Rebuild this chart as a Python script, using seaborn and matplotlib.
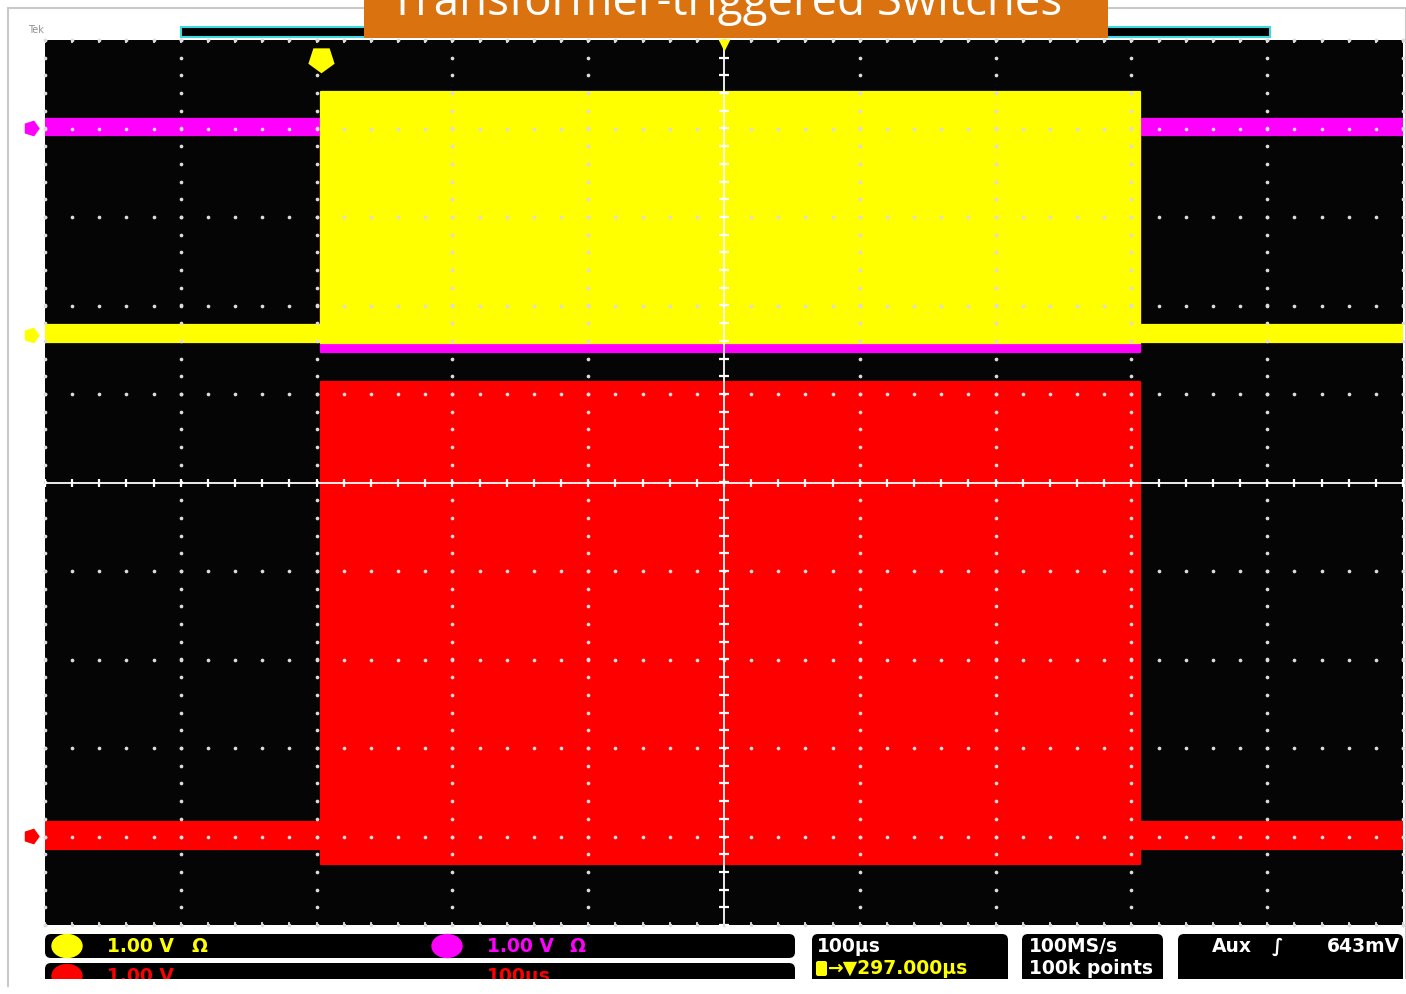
import numpy as np
import pandas as pd
import matplotlib
matplotlib.use("Agg")
import matplotlib.pyplot as plt
import seaborn as sns
from matplotlib.patches import Rectangle, FancyBboxPatch, Ellipse

# ---- acquisition data: 100 µs/div horizontal, 1 V/div vertical ----------
time_us = [0, 203, 806, 1000]          # segment boundaries: idle, burst, idle
ch1_upper = [1.78, 4.41, 1.78]         # yellow trace envelope (div)
ch1_lower = [1.59, 1.58, 1.59]
ch2_upper = [4.11, 1.58, 4.11]         # magenta trace envelope (div)
ch2_lower = [3.93, 1.47, 3.93]
ch3_upper = [-3.84, 1.13, -3.84]       # red trace envelope (div)
ch3_lower = [-4.14, -4.31, -4.14]

channel_names = ["CH1", "CH2", "CH3"]
channel_colors = ["#ffff00", "#ff00ff", "#ff0000"]
channel_ground = [1.67, 4.01, -3.99]   # ground-reference marker levels (div)
trigger_time_us = 203

title = "Transformer-triggered Switches"
ch_scale_labels = ["1.00 V", "1.00 V", "1.00 V"]
math_scale_label = "100µs"
timebase_label = "100µs"
trigger_pos_label = "297.000µs"
sample_rate_label = "100MS/s"
record_label = "100k points"
trigger_source_label = "Aux"
trigger_level_label = "643mV"

# ---- long-form table of trace envelopes ----------------------------------
rows = []
for name, up, lo in zip(channel_names, [ch1_upper, ch2_upper, ch3_upper],
                        [ch1_lower, ch2_lower, ch3_lower]):
    for edge, vals in (("upper", up), ("lower", lo)):
        for t, v in zip(time_us, vals + [vals[-1]]):
            rows.append({"channel": name, "edge": edge, "time": t, "value": v})
traces = pd.DataFrame(rows)

sns.set_theme(style="white")
plt.rcParams["font.family"] = ["DejaVu Sans"]

W, H = 1406, 994
fig = plt.figure(figsize=(W / 100, H / 100), dpi=100, facecolor="white")

# pixel-space overlay for the frame, header and status bar
deco = fig.add_axes([0, 0, 1, 1], zorder=0)
deco.set_xlim(0, W)
deco.set_ylim(H, 0)
deco.axis("off")

# screen area
px_l, px_r, px_t, px_b = 45, 1403, 40, 925
ax = fig.add_axes([px_l / W, 1 - px_b / H, (px_r - px_l) / W, (px_b - px_t) / H], zorder=2)
ax.set_facecolor("#050505")
ax.set_xlim(0, 1000)
ax.set_ylim(-5, 5)
ax.set_xticks([])
ax.set_yticks([])
for s in ax.spines.values():
    s.set_visible(False)

# traces: red underneath, then magenta, yellow on top
zorders = {"CH3": 2, "CH2": 3, "CH1": 4}
for name, color in zip(channel_names, channel_colors):
    sub = traces[traces["channel"] == name]
    up = sub[sub["edge"] == "upper"]
    lo = sub[sub["edge"] == "lower"]
    ax.fill_between(up["time"].to_numpy(), lo["value"].to_numpy(), up["value"].to_numpy(),
                    step="post", color=color, lw=0, zorder=zorders[name])
    sns.lineplot(data=sub, x="time", y="value", units="edge", estimator=None,
                 drawstyle="steps-post", color=color, lw=1.6, ax=ax,
                 zorder=zorders[name], legend=False)
ax.set_xlabel("")
ax.set_ylabel("")
ax.set_xlim(0, 1000)
ax.set_ylim(-5, 5)

# graticule: dotted division lines, solid centre cross with minor ticks
dot_c = "#dcdcdc"
ys = np.arange(-5, 5.001, 0.2)
xs = np.arange(0, 1000.1, 20)
for xd in range(0, 1001, 100):
    if xd == 500:
        continue
    ax.scatter(np.full(len(ys), xd), ys, s=7, color=dot_c, lw=0, zorder=6, clip_on=False)
for yd in range(-5, 6):
    if yd == 0:
        continue
    ax.scatter(xs, np.full(len(xs), yd), s=7, color=dot_c, lw=0, zorder=6, clip_on=False)
ax.axhline(0, color="white", lw=1.3, zorder=7)
ax.axvline(500, color="white", lw=1.3, zorder=7)
ax.plot(xs, np.zeros(len(xs)), ls="none", marker="|", ms=6, mew=1.6, color="white", zorder=7)
ax.plot(np.full(len(ys), 500), ys, ls="none", marker="_", ms=7, mew=1.6, color="white", zorder=7)
for edge_y in (5, -5):
    ax.plot(xs, np.full(len(xs), edge_y), ls="none", marker="|", ms=5, mew=1.3,
            color=dot_c, zorder=7)

# channel ground markers on the left edge
for lvl, color in zip(channel_ground, channel_colors):
    ax.plot([-10.5], [lvl], marker=(5, 0, -90), ms=12, color=color, mec="none",
            clip_on=False, zorder=8)

# trigger position and horizontal-centre markers
ax.plot([trigger_time_us], [4.79], marker=(5, 0, 180), ms=18, color="#ffff00",
        mec="#ffff00", mew=1.5, zorder=8)
ax.plot([500], [4.94], marker="v", ms=8, color="#ffff00", mec="none", zorder=8, clip_on=False)

# ---- header ---------------------------------------------------------------
deco.add_patch(Rectangle((8, 8), W - 8, H - 16, fill=False, ec="#c9c9c9", lw=1.5))
deco.text(28, 33, "Tek", fontsize=7, color="#909090", va="baseline")
deco.add_patch(Rectangle((181, 27), 1089, 10, fc="black", ec="#3fd8e2", lw=1.5))
deco.add_patch(Rectangle((364, -5), 744, 43, fc="#d9720f", ec="none", zorder=3))
ttl = deco.text(726, 15, title, ha="center", va="baseline", color="white",
                family=["Open Sans", "DejaVu Sans"], fontsize=32, zorder=4)
fig.canvas.draw()
tw = ttl.get_window_extent().width
ttl.set_fontsize(32 * 674 / tw)

# ---- status bar -----------------------------------------------------------
def box(x, y, w, h):
    deco.add_patch(FancyBboxPatch((x, y), w, h, boxstyle="round,pad=0,rounding_size=6",
                                  fc="black", ec="none", zorder=2))

box(45, 934, 750, 24)
box(45, 963, 750, 28)
box(812, 934, 196, 56)
box(1022, 934, 141, 56)
box(1178, 934, 225, 56)

fkw = dict(family=["DejaVu Sans"], fontweight="bold", fontsize=13.5, va="center", zorder=4)
deco.add_patch(Ellipse((67, 946), 30, 23, color=channel_colors[0], zorder=3))
deco.text(107, 946, ch_scale_labels[0], color=channel_colors[0], **fkw)
deco.text(191, 946, "Ω", color=channel_colors[0], **fkw)
deco.add_patch(Ellipse((447, 946), 30, 23, color=channel_colors[1], zorder=3))
deco.text(487, 946, ch_scale_labels[1], color=channel_colors[1], **fkw)
deco.text(570, 946, "Ω", color=channel_colors[1], **fkw)
deco.add_patch(Ellipse((67, 976), 30, 23, color=channel_colors[2], zorder=3))
deco.text(107, 977, ch_scale_labels[2], color=channel_colors[2], **fkw)
deco.text(487, 977, math_scale_label, color=channel_colors[2], **fkw)

deco.text(817, 946, timebase_label, color="white", **fkw)
deco.add_patch(FancyBboxPatch((816, 961), 11, 15, boxstyle="round,pad=0,rounding_size=2",
                              fc="#ffff00", ec="none", zorder=3))
deco.text(828, 968, "→▼" + trigger_pos_label, color="#ffff00", **fkw)
deco.text(1029, 946, sample_rate_label, color="white", **fkw)
deco.text(1029, 968, record_label, color="white", **fkw)
deco.text(1212, 946, trigger_source_label, color="white", **fkw)
deco.text(1272, 946, "∫", color="white", **fkw)
deco.text(1400, 946, trigger_level_label, color="white", ha="right", **fkw)

# the display is cut just below the readouts
deco.add_patch(Rectangle((9, 978.5), W, 12, fc="white", ec="none", zorder=5))

fig.savefig("out.png", dpi=100, facecolor="white")
